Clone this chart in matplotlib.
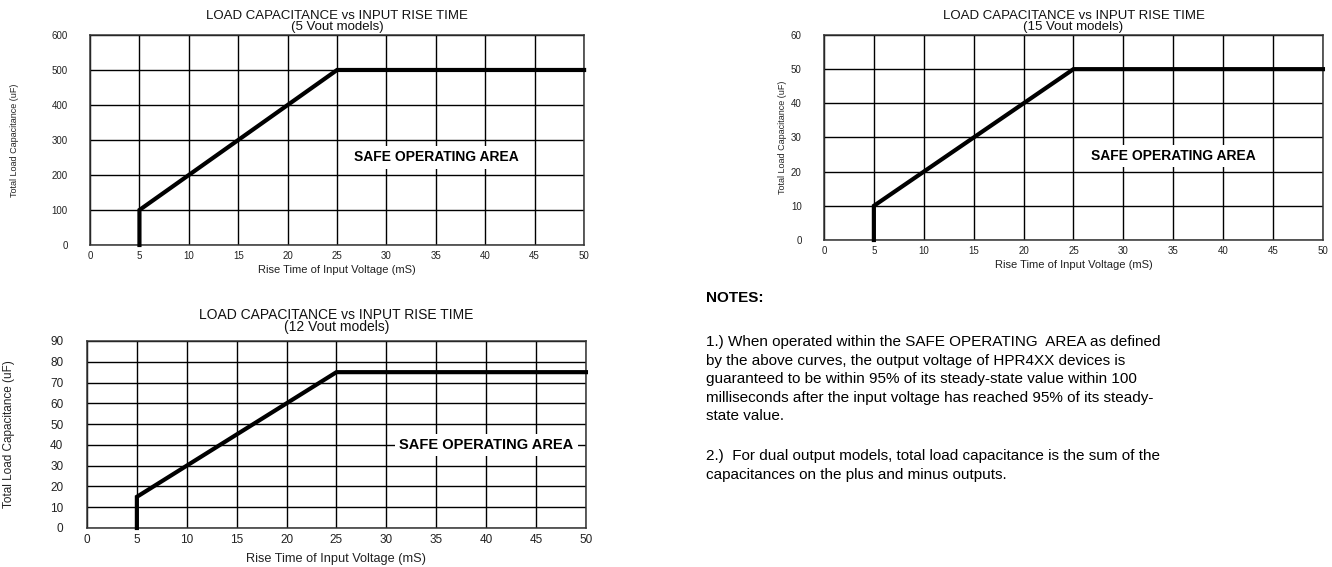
import matplotlib.pyplot as plt

plt.rcParams['font.family'] = ['Liberation Sans', 'DejaVu Sans']

# Rise time breakpoints (mS) shared by all three curves
rise_time = [5, 5, 25, 50]

cap_5v = [0, 100, 500, 500]
cap_12v = [0, 15, 75, 75]
cap_15v = [0, 10, 50, 50]

x_ticks = [0, 5, 10, 15, 20, 25, 30, 35, 40, 45, 50]
y_ticks_5v = [0, 100, 200, 300, 400, 500, 600]
y_ticks_12v = [0, 10, 20, 30, 40, 50, 60, 70, 80, 90]
y_ticks_15v = [0, 10, 20, 30, 40, 50, 60]

title = "LOAD CAPACITANCE vs INPUT RISE TIME"
x_label = "Rise Time of Input Voltage (mS)"
y_label = "Total Load Capacitance (uF)"
soa_label = "SAFE OPERATING AREA"

note_1 = ("1.) When operated within the SAFE OPERATING  AREA as defined\n"
          "by the above curves, the output voltage of HPR4XX devices is\n"
          "guaranteed to be within 95% of its steady-state value within 100\n"
          "milliseconds after the input voltage has reached 95% of its steady-\n"
          "state value.")
note_2 = ("2.)  For dual output models, total load capacitance is the sum of the\n"
          "capacitances on the plus and minus outputs.")


def draw_chart(ax, caps, y_ticks, subtitle, soa_pos, soa_fs, tick_fs, title_fs,
               label_fs, ylabel_fs, ytick_pad, title_pad, ylabel_x, xlabel_pad):
	ax.plot(rise_time, caps, color="black", linewidth=3.0, solid_joinstyle="miter",
	        zorder=4, clip_on=False)
	ax.set_xlim(0, 50)
	ax.set_ylim(y_ticks[0], y_ticks[-1])
	ax.set_xticks(x_ticks)
	ax.set_yticks(y_ticks)
	ax.tick_params(length=0, labelsize=tick_fs, pad=4, colors="#222222")
	ax.tick_params(axis="y", pad=ytick_pad)
	ax.grid(True, color="black", linewidth=1.0)
	ax.set_axisbelow(True)
	for s in ax.spines.values():
		s.set_color("#333333")
		s.set_linewidth(1.1)
	ax.set_title("{0}\n({1})".format(title, subtitle), fontsize=title_fs,
	             linespacing=0.86, pad=title_pad, color="#111111")
	ax.set_xlabel(x_label, fontsize=label_fs, labelpad=xlabel_pad, color="#222222")
	ax.set_ylabel(y_label, fontsize=ylabel_fs, color="#222222")
	ax.yaxis.set_label_coords(ylabel_x, 0.5)
	ax.text(soa_pos[0], soa_pos[1], soa_label, fontsize=soa_fs, fontweight="bold",
	        ha="center", va="center", zorder=3,
	        bbox=dict(facecolor="white", edgecolor="none", pad=3))


fig = plt.figure(figsize=(13.32, 5.67), dpi=100)

ax1 = fig.add_axes([0.0676, 0.5679, 0.3709, 0.3704])
draw_chart(ax1, cap_5v, y_ticks_5v, "5 Vout models", (35.1, 250), 10,
           7, 9.5, 8, 6.5, 16, 3.5, -0.144, 3)

ax2 = fig.add_axes([0.0653, 0.0688, 0.3746, 0.3298])
draw_chart(ax2, cap_12v, y_ticks_12v, "12 Vout models", (40, 40), 10.5,
           8.5, 10, 9.2, 8.5, 17, 7, -0.144, 5.5)

ax3 = fig.add_axes([0.6186, 0.5767, 0.3746, 0.3616])
draw_chart(ax3, cap_15v, y_ticks_15v, "15 Vout models", (35, 24.5), 10,
           7, 9.5, 8, 6.5, 16, 3.5, -0.074, 3)

# Notes block on the right-hand side
fig.text(706 / 1332, 1 - 298 / 567, "NOTES:", fontsize=11, fontweight="bold",
         va="center", ha="left")
fig.text(706 / 1332, 1 - 335 / 567, note_1, fontsize=11, va="top", ha="left",
         linespacing=1.41)
fig.text(706 / 1332, 1 - 449 / 567, note_2, fontsize=11, va="top", ha="left",
         linespacing=1.41)

fig.savefig("out.png", dpi=100)
